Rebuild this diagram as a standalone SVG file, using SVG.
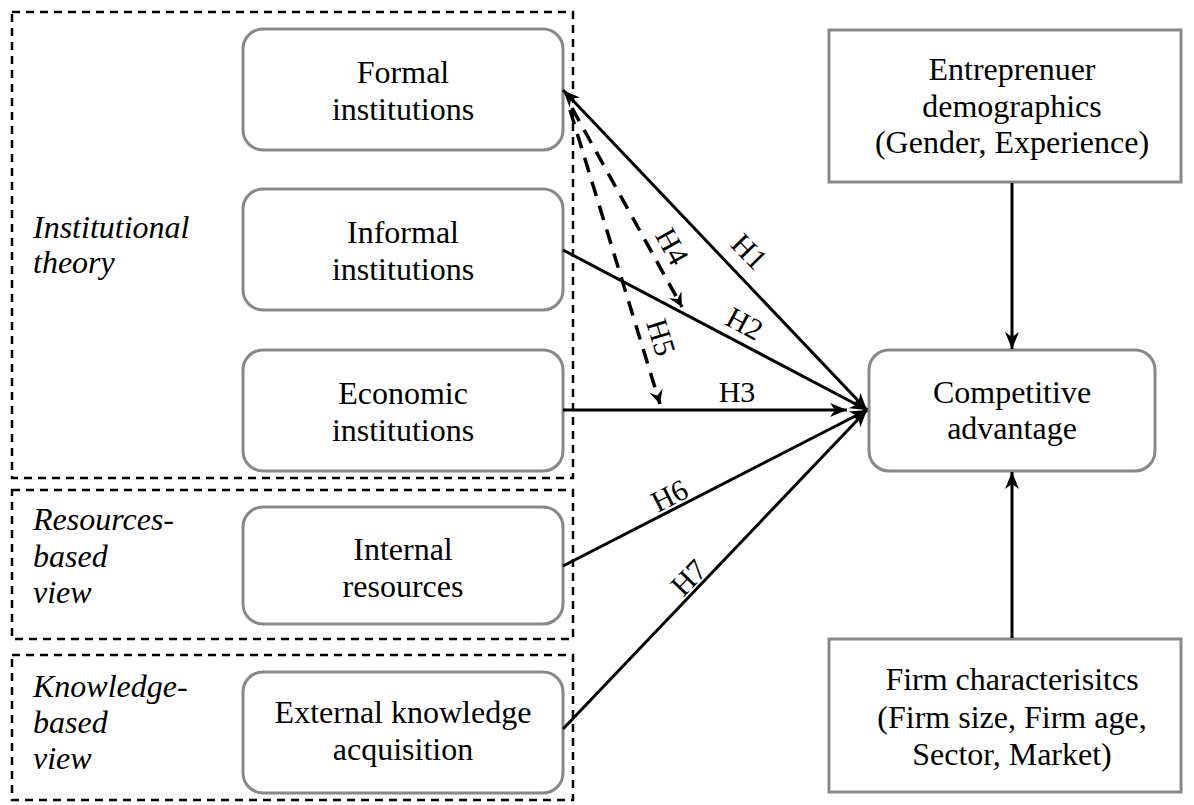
<svg xmlns="http://www.w3.org/2000/svg" width="1194" height="805" viewBox="0 0 1194 805" font-family="Liberation Serif, Tinos, Noto Serif, Nimbus Roman, FreeSerif, Times, DejaVu Serif, serif">
<defs>
<style>
.grp{fill:none;stroke:#000;stroke-width:2.5;stroke-dasharray:8 6}
.node{fill:#fff;stroke:#888;stroke-width:3}
.t{font-size:32px;fill:#000;text-anchor:middle}
.it{font-size:32px;font-style:italic;fill:#000}
.lbl{font-size:30px;fill:#000;text-anchor:middle}
.c{fill:none;stroke:#000;stroke-width:3}
.d{fill:none;stroke:#000;stroke-width:3.5;stroke-dasharray:15 10}
</style>
<marker id="ah" markerUnits="userSpaceOnUse" markerWidth="24" markerHeight="20" viewBox="-18 -10 20 20" refX="0" refY="0" orient="auto-start-reverse">
<path d="M0,0 L-17,-7 L-12,0 L-17,7 Z" fill="#000"/>
</marker>
<marker id="ahs" markerUnits="userSpaceOnUse" markerWidth="20" markerHeight="20" viewBox="-16 -10 18 20" refX="0" refY="0" orient="auto">
<path d="M0,0 L-14,-7 L-9,0 L-14,7 Z" fill="#000"/>
</marker>
</defs>
<rect width="1194" height="805" fill="#fff"/>

<g id="group-institutional">
<rect class="grp" x="12" y="12" width="561" height="466"/>
<text class="it" x="33" y="238">Institutional</text>
<text class="it" x="33" y="273">theory</text>
</g>
<g id="group-resources">
<rect class="grp" x="12" y="490" width="561" height="149"/>
<text class="it" x="33" y="530">Resources-</text>
<text class="it" x="33" y="567">based</text>
<text class="it" x="33" y="603">view</text>
</g>
<g id="group-knowledge">
<rect class="grp" x="12" y="655" width="561" height="145"/>
<text class="it" x="33" y="697">Knowledge-</text>
<text class="it" x="33" y="733">based</text>
<text class="it" x="33" y="769">view</text>
</g>

<g id="formal">
<rect class="node" x="243" y="29" width="320" height="121" rx="20"/>
<text class="t" x="403" y="83">Formal</text>
<text class="t" x="403" y="120">institutions</text>
</g>
<g id="informal">
<rect class="node" x="243" y="189" width="320" height="121" rx="20"/>
<text class="t" x="403" y="243">Informal</text>
<text class="t" x="403" y="280">institutions</text>
</g>
<g id="economic">
<rect class="node" x="243" y="350" width="320" height="121" rx="20"/>
<text class="t" x="403" y="404">Economic</text>
<text class="t" x="403" y="441">institutions</text>
</g>
<g id="internal">
<rect class="node" x="243" y="507" width="320" height="117" rx="20"/>
<text class="t" x="403" y="560">Internal</text>
<text class="t" x="403" y="597">resources</text>
</g>
<g id="external">
<rect class="node" x="243" y="672" width="320" height="121" rx="20"/>
<text class="t" x="403" y="723">External knowledge</text>
<text class="t" x="403" y="760">acquisition</text>
</g>

<g id="entrepreneur">
<rect class="node" x="829" y="30" width="352" height="152"/>
<text class="t" x="1012" y="80">Entreprenuer</text>
<text class="t" x="1012" y="117">demographics</text>
<text class="t" x="1012" y="153">(Gender, Experience)</text>
</g>
<g id="competitive">
<rect class="node" x="869" y="350" width="286" height="121" rx="20"/>
<text class="t" x="1012" y="403">Competitive</text>
<text class="t" x="1012" y="439">advantage</text>
</g>
<g id="firm">
<rect class="node" x="829" y="639" width="352" height="153"/>
<text class="t" x="1012" y="690">Firm characterisitcs</text>
<text class="t" x="1012" y="728">(Firm size, Firm age,</text>
<text class="t" x="1012" y="765">Sector, Market)</text>
</g>

<g id="connectors">
<line class="c" x1="563" y1="90" x2="867" y2="410" marker-start="url(#ah)" marker-end="url(#ah)"/>
<line class="c" x1="563" y1="250" x2="867" y2="410" marker-end="url(#ah)"/>
<line class="c" x1="563" y1="410" x2="847" y2="410" marker-end="url(#ah)"/>
<line class="c" x1="563" y1="566" x2="867" y2="410" marker-end="url(#ah)"/>
<line class="c" x1="563" y1="729" x2="867" y2="410" marker-end="url(#ah)"/>
<line class="d" x1="572" y1="108" x2="682" y2="307" marker-end="url(#ahs)"/>
<line class="d" x1="570" y1="110" x2="660" y2="404" marker-end="url(#ahs)"/>
<line class="c" x1="1012" y1="183" x2="1012" y2="349" marker-end="url(#ah)"/>
<line class="c" x1="1012" y1="638" x2="1012" y2="472" marker-end="url(#ah)"/>
<g id="labels">
<text class="lbl" transform="translate(750,251) rotate(46)" y="11">H1</text>
<text class="lbl" transform="translate(745,323) rotate(28)" y="11">H2</text>
<text class="lbl" x="737" y="402">H3</text>
<text class="lbl" transform="translate(673,246) rotate(61)" y="11">H4</text>
<text class="lbl" transform="translate(662,337) rotate(73)" y="11">H5</text>
<text class="lbl" transform="translate(669,495) rotate(-27)" y="11">H6</text>
<text class="lbl" transform="translate(688,577) rotate(-46)" y="11">H7</text>
</g>
</g>
</svg>
